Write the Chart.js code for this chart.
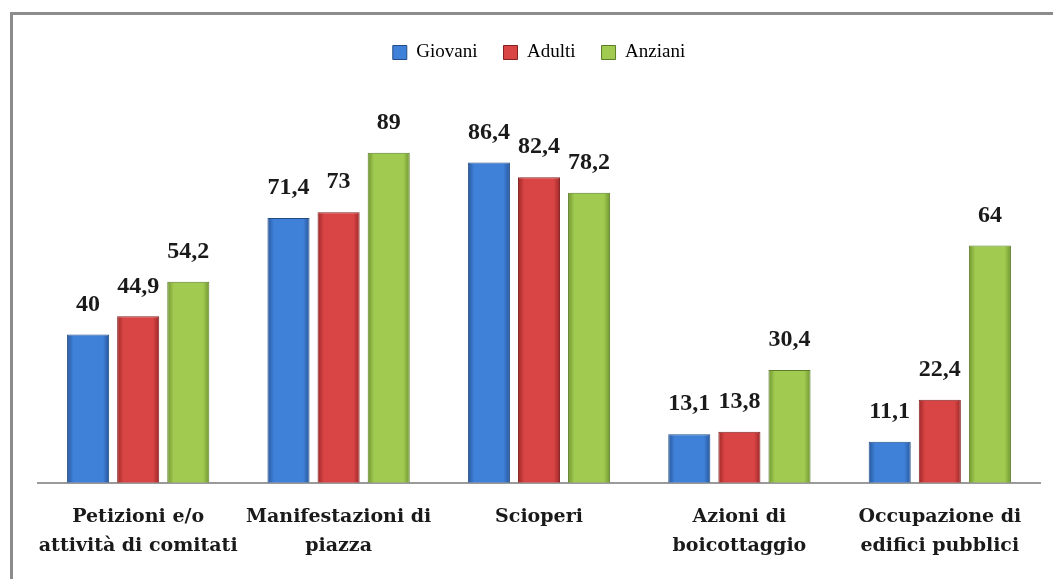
<!DOCTYPE html>
<html>
<head>
<meta charset="utf-8">
<script src="https://cdn.jsdelivr.net/npm/chart.js@4"></script>
<style>
  html, body { margin: 0; padding: 0; background: #fff; }
  #wrap { position: relative; width: 1053px; height: 579px; overflow: hidden; }
  #frame { position: absolute; left: 10px; top: 12px; width: 1100px; height: 700px;
           border-left: 3px solid #8c8c8c; border-top: 3px solid #8c8c8c; box-sizing: border-box; }
  canvas { position: absolute; left: 0; top: 0; }
</style>
</head>
<body>
<div id="wrap">
  <div id="frame"></div>
  <canvas id="chart" width="1053" height="584"></canvas>
</div>
<script>
var categories = [
    ['Petizioni e/o', 'attività di comitati'],
    ['Manifestazioni di', 'piazza'],
    'Scioperi',
    ['Azioni di', 'boicottaggio'],
    ['Occupazione di', 'edifici pubblici']
];
var giovani = [40, 71.4, 86.4, 13.1, 11.1];
var adulti = [44.9, 73, 82.4, 13.8, 22.4];
var anziani = [54.2, 89, 78.2, 30.4, 64];

// colori: bordo scuro, centro chiaro
var palette = {
    giovani: ['#27579c', '#3f80d8', '#27579c'],
    adulti: ['#9e2828', '#d94444', '#9e2828'],
    anziani: ['#6f9630', '#a0ca50', '#6f9630']
};

function barFill(cols){
    return function(ctx){
        var el = ctx.element;
        if(!el || el.x === undefined || el.width === undefined){
            return cols[1];
        }
        var g = ctx.chart.ctx.createLinearGradient(el.x - el.width/2, 0, el.x + el.width/2, 0);
        g.addColorStop(0, cols[0]);
        g.addColorStop(0.15, cols[1]);
        g.addColorStop(0.5, cols[1]);
        g.addColorStop(0.85, cols[1]);
        g.addColorStop(1, cols[0]);
        return g;
    }
}

var valueLabels = {
    id: 'valueLabels',
    afterDatasetsDraw: function(chart){
        var c = chart.ctx;
        c.save();
        c.font = 'bold 24px "Liberation Serif"';
        c.fillStyle = '#1a1a1a';
        c.textAlign = 'center';
        c.textBaseline = 'middle';
        chart.data.datasets.forEach(function(ds, i){
            var meta = chart.getDatasetMeta(i);
            meta.data.forEach(function(bar, j){
                var txt = String(ds.data[j]).replace('.', ',');
                c.fillText(txt, bar.x, bar.y - 30);
            });
        });
        c.restore();
    }
}

// spazio extra sotto la legenda
var legendGap = {
    id: 'legendGap',
    beforeInit: function(chart){
        var fit = chart.legend.fit;
        chart.legend.fit = function(){
            fit.bind(chart.legend)();
            this.height += 40;
        }
    }
}

var ctx = document.getElementById('chart').getContext('2d');
var chart = new Chart(ctx, {
    type: 'bar',
    data: {
        labels: categories,
        datasets: [
            {label: 'Giovani', data: giovani, backgroundColor: barFill(palette.giovani), borderColor: '#234c85', borderWidth: 1},
            {label: 'Adulti', data: adulti, backgroundColor: barFill(palette.adulti), borderColor: '#832020', borderWidth: 1},
            {label: 'Anziani', data: anziani, backgroundColor: barFill(palette.anziani), borderColor: '#5c7c26', borderWidth: 1}
        ]
    },
    options: {
        responsive: false,
        animation: false,
        layout: { padding: { left: 38, right: 13, top: 17, bottom: 3 } },
        datasets: { bar: { categoryPercentage: 0.75, barPercentage: 0.84 } },
        plugins: {
            legend: {
                display: true,
                position: 'top',
                labels: {
                    boxWidth: 14,
                    boxHeight: 14,
                    padding: 26,
                    color: '#1a1a1a',
                    font: { family: '"Liberation Serif"', size: 19 },
                    generateLabels: function(ch){
                        var cols = [palette.giovani[1], palette.adulti[1], palette.anziani[1]];
                        var borders = ['#234c85', '#832020', '#5c7c26'];
                        return ch.data.datasets.map(function(ds, i){
                            return { text: ds.label, fillStyle: cols[i], strokeStyle: borders[i], lineWidth: 1, datasetIndex: i };
                        });
                    }
                }
            },
            tooltip: { enabled: false }
        },
        scales: {
            x: {
                grid: { display: false, drawTicks: false },
                border: { display: true, color: '#9a9a9a', width: 2 },
                ticks: {
                    color: '#1a1a1a',
                    padding: 20,
                    maxRotation: 0,
                    autoSkip: false,
                    font: { family: '"DejaVu Serif"', size: 19, weight: 'bold', lineHeight: 1.53 }
                }
            },
            y: {
                display: false,
                min: 0,
                max: 100
            }
        }
    },
    plugins: [valueLabels, legendGap]
});
// second pass so the gradient knows each bar's position
chart.update();
</script>
</body>
</html>
